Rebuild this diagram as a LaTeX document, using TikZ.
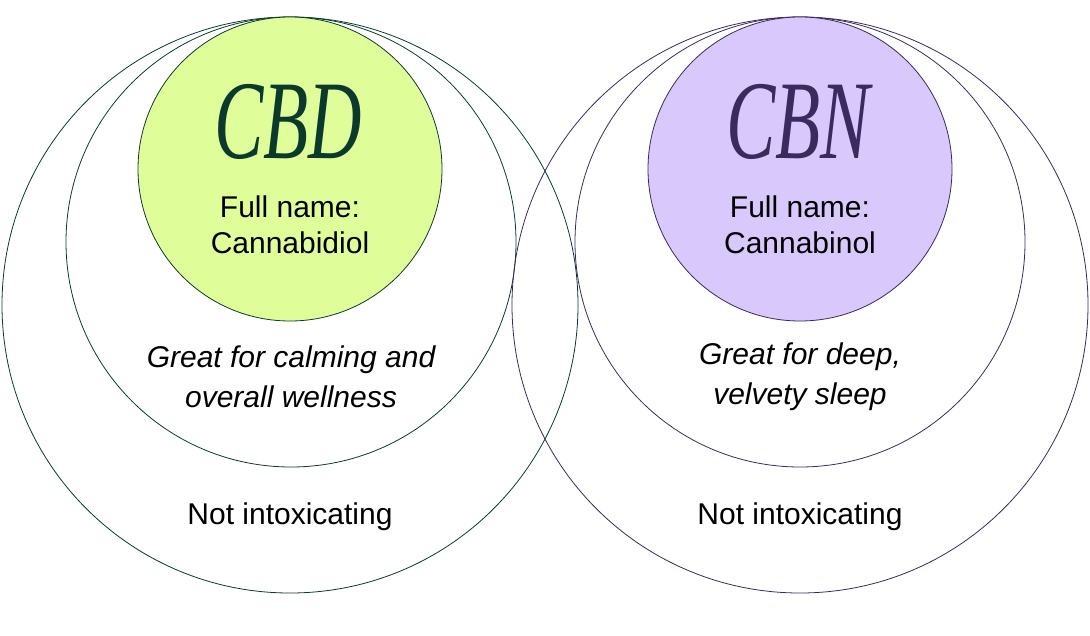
\documentclass[tikz,border=0pt]{standalone}
\usepackage{fontspec}
\setmainfont{Liberation Sans}
\newfontfamily\titlefont{Liberation Serif}
\definecolor{gfill}{HTML}{DFFE9A}
\definecolor{gline}{HTML}{0B3A2C}
\definecolor{pfill}{HTML}{D9C8FC}
\definecolor{pline}{HTML}{3A2A60}
\begin{document}
\begin{tikzpicture}[x=1pt,y=-1pt,
  ring/.style={draw,line width=0.8pt},
  body/.style={font=\fontsize{30}{36}\selectfont,align=center,text=black},
  ttl/.style={font=\titlefont\itshape\fontsize{112}{112}\selectfont}]
\useasboundingbox (0,0) rectangle (1090,635);
% left
\node[ring,draw=gline,circle,minimum size=576pt,inner sep=0] (lb) at (290,305) {};
\node[ring,draw=gline,circle,minimum size=450pt,inner sep=0] (lm) at (291,242) {};
\node[ring,draw=gline,fill=gfill,circle,minimum size=304pt,inner sep=0] (ls) at (290,169) {};
% right
\node[ring,draw=pline,circle,minimum size=576pt,inner sep=0] (rb) at (800,305) {};
\node[ring,draw=pline,circle,minimum size=450pt,inner sep=0] (rm) at (800,242) {};
\node[ring,draw=pline,fill=pfill,circle,minimum size=304pt,inner sep=0] (rs) at (800,169) {};
% texts
\node[ttl,text=gline] (t1) at (288,122) {\scalebox{0.66}[1]{CBD}};
\node[ttl,text=pline] (t2) at (798,122) {\scalebox{0.66}[1]{CBN}};
\node[body] (f1) at (290,225) {Full name:\\Cannabidiol};
\node[body] (f2) at (800,225) {Full name:\\Cannabinol};
\node[body,font=\itshape\fontsize{30}{40}\selectfont] (g1) at (291,377) {Great for calming and\\overall wellness};
\node[body,font=\itshape\fontsize{30}{40}\selectfont] (g2) at (800,377) {Great for deep,\\velvety sleep};
\node[body] (n1) at (290,517) {Not intoxicating};
\node[body] (n2) at (800,517) {Not intoxicating};
\end{tikzpicture}
\end{document}
